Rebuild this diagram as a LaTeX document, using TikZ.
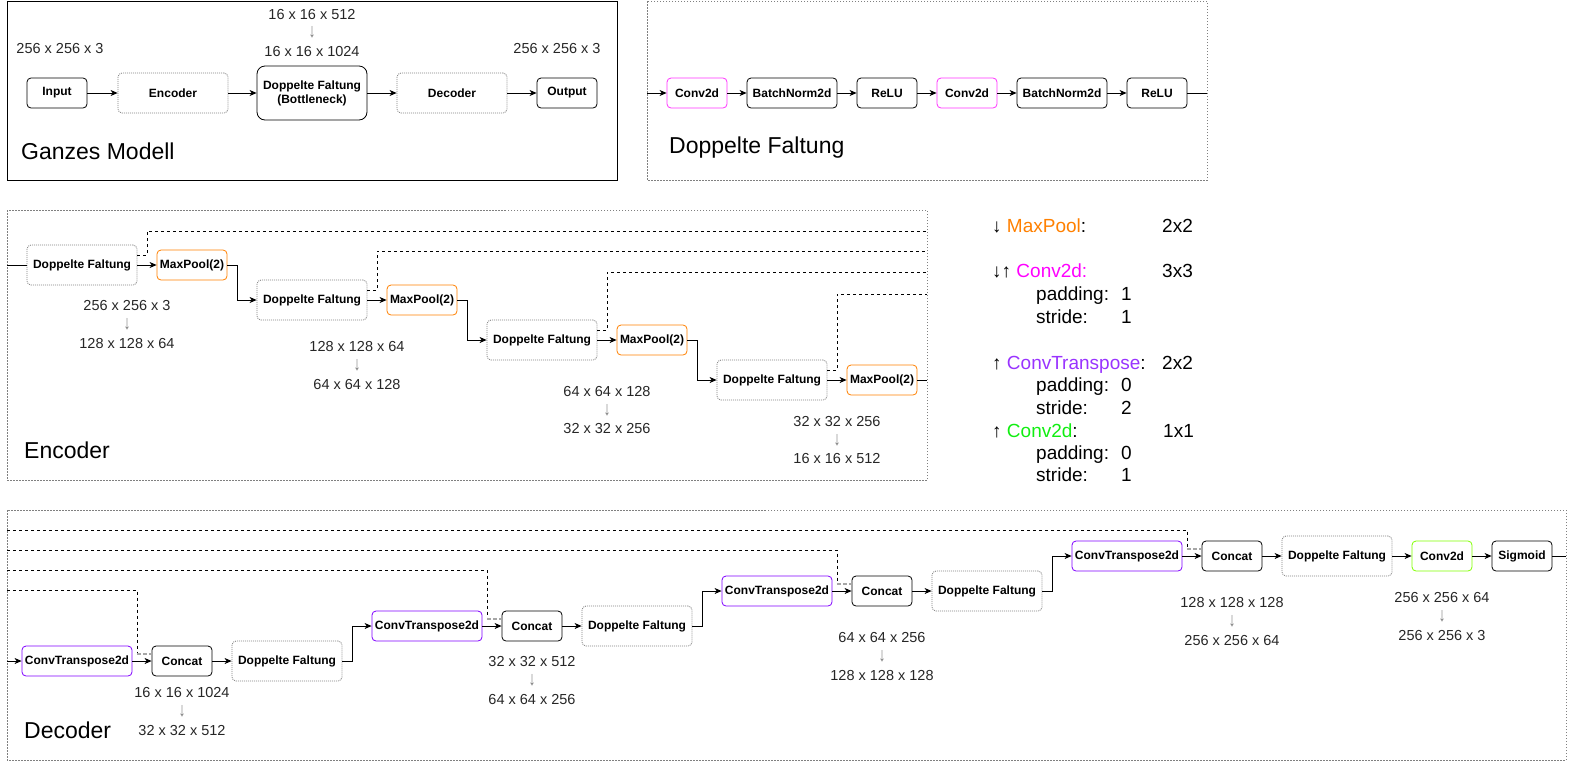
\documentclass[tikz,border=0pt]{standalone}
\usepackage{fontspec}
\setmainfont{Liberation Sans}
\usetikzlibrary{arrows.meta}
\definecolor{mpor}{HTML}{FF8000}
\definecolor{cmag}{HTML}{FF33FF}
\definecolor{ctr}{HTML}{7F00FF}
\definecolor{cgr}{HTML}{80FF00}
\definecolor{lgr}{HTML}{11EE11}
\definecolor{lmag}{HTML}{FF00FF}
\definecolor{lpur}{HTML}{9933FF}
\newcommand{\darr}{{\color{black!50}\fontsize{14}{18}\selectfont\scalebox{1}[1.4]{↓}}}
\tikzset{
 blk/.style={draw=black, line width=0.8pt, rounded corners=4pt, inner sep=0pt, font=\bfseries\fontsize{12}{14}\selectfont, align=center, minimum height=30pt, minimum width=60pt},
 dfb/.style={blk, draw=gray, dash pattern=on 1pt off 1pt, minimum width=110pt, minimum height=40pt},
 mpb/.style={blk, draw=mpor, minimum width=70pt},
 ctb/.style={blk, draw=ctr, minimum width=110pt},
 conn/.style={line width=0.8pt, -{Stealth[length=7pt,width=6pt,inset=2pt]}},
 plainln/.style={line width=0.8pt},
 skip/.style={line width=0.8pt, dash pattern=on 3pt off 3pt},
 skipg/.style={line width=1.5pt, gray!70, dash pattern=on 4pt off 2pt},
 dim/.style={font=\fontsize{14.5}{19}\selectfont, align=center, text=black!85, inner sep=0pt},
 ttl/.style={font=\fontsize{23}{26}\selectfont, anchor=base west, inner sep=0pt},
 leg/.style={font=\fontsize{19}{22}\selectfont, anchor=base west, inner sep=0pt},
 panel/.style={draw=gray, line width=0.6pt, dash pattern=on 1.5pt off 1.5pt},
}
\begin{document}
\begin{tikzpicture}[x=1pt,y=-1pt]
\useasboundingbox (0,0) rectangle (1569,761);

% ---------------- Panel 1: Ganzes Modell ----------------
\draw[line width=0.8pt] (7,1) rectangle (617,180);
\node[blk] (in) at (57,93) {Input};
\node[dfb] (enc) at (173,93) {Encoder};
\node[blk, minimum width=110pt, minimum height=54pt, rounded corners=8pt] (bn) at (312,93) {Doppelte Faltung\\(Bottleneck)};
\node[dfb] (dec) at (452,93) {Decoder};
\node[blk] (out) at (567,93) {Output};
\draw[conn] (in) -- (enc);
\draw[conn] (enc) -- (bn);
\draw[conn] (bn) -- (dec);
\draw[conn] (dec) -- (out);
\node[dim] (d0a) at (60,49) {256 x 256 x 3};
\node[dim] (d0b) at (557,49) {256 x 256 x 3};
\node[dim, font=\fontsize{14.5}{18.5}\selectfont] (d0c) at (312,33) {16 x 16 x 512\\\darr\\16 x 16 x 1024};
\node[ttl] (t1) at (21,159) {Ganzes Modell};

% ---------------- Panel 2: Doppelte Faltung ----------------
\draw[panel] (647,1) rectangle (1207,180);
\coordinate (p2in) at (647,93);
\coordinate (p2out) at (1207,93);
\node[blk, draw=cmag] (c1) at (697,93) {Conv2d};
\node[blk, minimum width=90pt] (b1) at (792,93) {BatchNorm2d};
\node[blk] (r1) at (887,93) {ReLU};
\node[blk, draw=cmag] (c2) at (967,93) {Conv2d};
\node[blk, minimum width=90pt] (b2) at (1062,93) {BatchNorm2d};
\node[blk] (r2) at (1157,93) {ReLU};
\draw[conn] (p2in) -- (c1);
\draw[conn] (c1) -- (b1);
\draw[conn] (b1) -- (r1);
\draw[conn] (r1) -- (c2);
\draw[conn] (c2) -- (b2);
\draw[conn] (b2) -- (r2);
\draw[plainln] (r2) -- (p2out);
\node[ttl] (t2) at (669,153) {Doppelte Faltung};

% ---------------- Panel 3: Encoder ----------------
\draw[panel] (7,210) rectangle (927,480);
\coordinate (ein) at (7,265);
\node[dfb] (e1) at (82,265) {Doppelte Faltung};
\node[mpb] (m1) at (192,265) {MaxPool(2)};
\node[dfb] (e2) at (312,300) {Doppelte Faltung};
\node[mpb] (m2) at (422,300) {MaxPool(2)};
\node[dfb] (e3) at (542,340) {Doppelte Faltung};
\node[mpb] (m3) at (652,340) {MaxPool(2)};
\node[dfb] (e4) at (772,380) {Doppelte Faltung};
\node[mpb] (m4) at (882,380) {MaxPool(2)};
\coordinate (eout) at (927,380);
\draw[plainln] (ein) -- (e1);
\draw[conn] (e1) -- (m1);
\draw[conn] (m1.east) -- ++(10,0) |- (e2.west);
\draw[conn] (e2) -- (m2);
\draw[conn] (m2.east) -- ++(10,0) |- (e3.west);
\draw[conn] (e3) -- (m3);
\draw[conn] (m3.east) -- ++(10,0) |- (e4.west);
\draw[conn] (e4) -- (m4);
\draw[plainln] (m4) -- (eout);
\coordinate (s1) at (927,231);
\coordinate (s2) at (927,251);
\coordinate (s3) at (927,272);
\coordinate (s4) at (927,294);
\draw[skip] ([yshift=10pt]e1.east) -| ([xshift=10pt]e1.east |- s1) -- (s1);
\draw[skip] ([yshift=10pt]e2.east) -| ([xshift=10pt]e2.east |- s2) -- (s2);
\draw[skip] ([yshift=10pt]e3.east) -| ([xshift=10pt]e3.east |- s3) -- (s3);
\draw[skip] ([yshift=10pt]e4.east) -| ([xshift=10pt]e4.east |- s4) -- (s4);
\node[dim] (de1) at (127,325) {256 x 256 x 3\\\darr\\128 x 128 x 64};
\node[dim] (de2) at (357,366) {128 x 128 x 64\\\darr\\64 x 64 x 128};
\node[dim] (de3) at (607,410) {64 x 64 x 128\\\darr\\32 x 32 x 256};
\node[dim] (de4) at (837,440) {32 x 32 x 256\\\darr\\16 x 16 x 512};
\node[ttl] (t3) at (24,458) {Encoder};

% ---------------- Legend ----------------
\node[leg] (l1) at (992,232) {↓ \textcolor{mpor}{MaxPool}:};
\node[leg] (l1v) at (1162,232) {2x2};
\node[leg] (l2) at (992,277) {↓↑ \textcolor{lmag}{Conv2d:}};
\node[leg] (l2v) at (1162,277) {3x3};
\node[leg] (l2p) at (1036,300) {padding:};
\node[leg] (l2pv) at (1121,300) {1};
\node[leg] (l2s) at (1036,323) {stride:};
\node[leg] (l2sv) at (1121,323) {1};
\node[leg] (l3) at (992,369) {↑ \textcolor{lpur}{ConvTranspose}:};
\node[leg] (l3v) at (1162,369) {2x2};
\node[leg] (l3p) at (1036,391) {padding:};
\node[leg] (l3pv) at (1121,391) {0};
\node[leg] (l3s) at (1036,414) {stride:};
\node[leg] (l3sv) at (1121,414) {2};
\node[leg] (l4) at (992,437) {↑ \textcolor{lgr}{Conv2d}:};
\node[leg] (l4v) at (1163,437) {1x1};
\node[leg] (l4p) at (1036,459) {padding:};
\node[leg] (l4pv) at (1121,459) {0};
\node[leg] (l4s) at (1036,481) {stride:};
\node[leg] (l4sv) at (1121,481) {1};

% ---------------- Panel 4: Decoder ----------------
\draw[panel] (7,510) rectangle (1566,760);
\coordinate (din) at (7,661);
\node[ctb] (t1n) at (77,661) {ConvTranspose2d};
\node[blk] (k1) at (182,661) {Concat};
\node[dfb] (f1) at (287,661) {Doppelte Faltung};
\node[ctb] (t2n) at (427,626) {ConvTranspose2d};
\node[blk] (k2) at (532,626) {Concat};
\node[dfb] (f2) at (637,626) {Doppelte Faltung};
\node[ctb] (t3n) at (777,591) {ConvTranspose2d};
\node[blk] (k3) at (882,591) {Concat};
\node[dfb] (f3) at (987,591) {Doppelte Faltung};
\node[ctb] (t4n) at (1127,556) {ConvTranspose2d};
\node[blk] (k4) at (1232,556) {Concat};
\node[dfb] (f4) at (1337,556) {Doppelte Faltung};
\node[blk, draw=cgr] (cg) at (1442,556) {Conv2d};
\node[blk] (sg) at (1522,556) {Sigmoid};
\coordinate (dout) at (1566,556);
\draw[conn] (din) -- (t1n);
\draw[conn] (t1n) -- (k1);
\draw[conn] (k1) -- (f1);
\draw[conn] (f1.east) -- ++(10,0) |- (t2n.west);
\draw[conn] (t2n) -- (k2);
\draw[conn] (k2) -- (f2);
\draw[conn] (f2.east) -- ++(10,0) |- (t3n.west);
\draw[conn] (t3n) -- (k3);
\draw[conn] (k3) -- (f3);
\draw[conn] (f3.east) -- ++(10,0) |- (t4n.west);
\draw[conn] (t4n) -- (k4);
\draw[conn] (k4) -- (f4);
\draw[conn] (f4) -- (cg);
\draw[conn] (cg) -- (sg);
\draw[plainln] (sg) -- (dout);
% skip connections
\coordinate (q1) at (7,590);
\coordinate (q2) at (7,570);
\coordinate (q3) at (7,550);
\coordinate (q4) at (7,530);
\draw[skip] (q1) -| ([xshift=5pt,yshift=7pt]t1n.east);
\draw[skip] (q2) -| ([xshift=5pt,yshift=7pt]t2n.east);
\draw[skip] (q3) -| ([xshift=5pt,yshift=7pt]t3n.east);
\draw[skip] (q4) -| ([xshift=5pt,yshift=7pt]t4n.east);
\draw[skipg] ([xshift=5pt,yshift=7pt]t1n.east) -- ([yshift=7pt]k1.west);
\draw[skipg] ([xshift=5pt,yshift=7pt]t2n.east) -- ([yshift=7pt]k2.west);
\draw[skipg] ([xshift=5pt,yshift=7pt]t3n.east) -- ([yshift=7pt]k3.west);
\draw[skipg] ([xshift=5pt,yshift=7pt]t4n.east) -- ([yshift=7pt]k4.west);
\node[dim] (dd1) at (182,711) {16 x 16 x 1024\\\darr\\32 x 32 x 512};
\node[dim] (dd2) at (532,680) {32 x 32 x 512\\\darr\\64 x 64 x 256};
\node[dim] (dd3) at (882,656) {64 x 64 x 256\\\darr\\128 x 128 x 128};
\node[dim] (dd4) at (1232,621) {128 x 128 x 128\\\darr\\256 x 256 x 64};
\node[dim] (dd5) at (1442,616) {256 x 256 x 64\\\darr\\256 x 256 x 3};
\node[ttl] (t4) at (24,738) {Decoder};
\end{tikzpicture}
\end{document}
